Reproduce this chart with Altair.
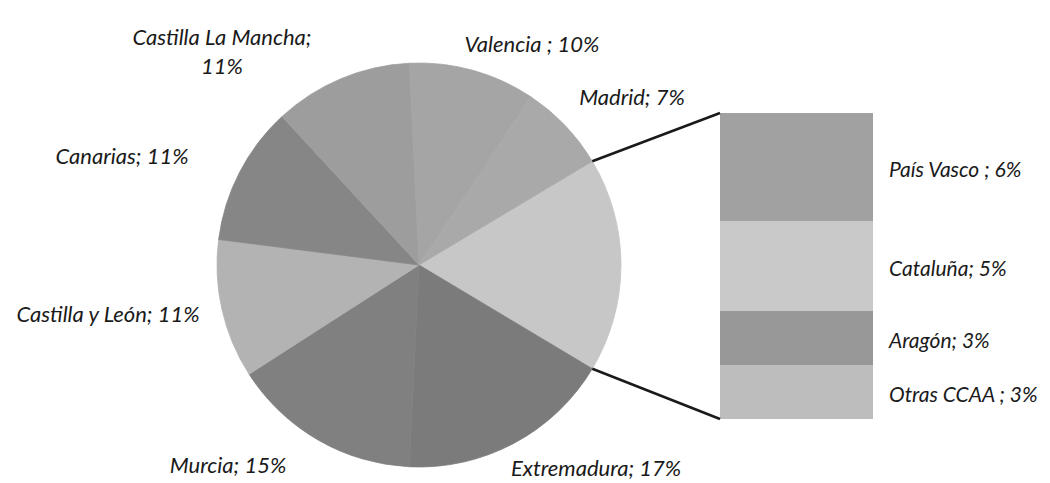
import math
import altair as alt
import pandas as pd

# ---- data ----
pie_names = ["Otras", "Extremadura", "Murcia", "Castilla y León", "Canarias",
             "Castilla La Mancha", "Valencia", "Madrid"]
pie_values = [17, 17, 15, 11, 11, 11, 10, 7]
pie_labels = ["", "Extremadura; 17%", "Murcia; 15%", "Castilla y León; 11%",
              "Canarias; 11%", "Castilla La Mancha;\n11%", "Valencia ; 10%", "Madrid; 7%"]

bar_names = ["Otras CCAA", "Aragón", "Cataluña", "País Vasco"]
bar_values = [3, 3, 5, 6]
bar_labels = ["Otras CCAA ; 3%", "Aragón; 3%", "Cataluña; 5%", "País Vasco ; 6%"]

# ---- styles / layout ----
pie_colors = ["#c7c7c7", "#7b7b7b", "#808080", "#b3b3b3", "#868686",
              "#9d9d9d", "#a5a5a5", "#a9a9a9"]
bar_colors = ["#bdbdbd", "#989898", "#c9c9c9", "#a1a1a1"]
OFF = 8
CX, CY, R = 419 - OFF, 265 - OFF, 202
BAR_X0, BAR_X1 = 720 - OFF, 873 - OFF
BAR_TOP, BAR_BOT = 113 - OFF, 419 - OFF
# label anchor points (page px) for the pie labels
pie_label_xy = [(0, 0), (596, 469), (228, 466), (108, 315), (122, 157),
                (222, 38), (532, 45), (632, 98)]
FONT = "Lato"
FS = 22
FS_BAR = 21

total = sum(pie_values)
other_total = sum(bar_values)
start = math.pi / 2 - math.pi * pie_values[0] / total

pie_df = pd.DataFrame({
    "name": pie_names, "value": pie_values, "idx": list(range(len(pie_names))),
    "col": pie_colors,
})

pie = alt.Chart(pie_df).mark_arc(outerRadius=R, strokeWidth=0.8).encode(
    theta=alt.Theta("value:Q", stack=True,
                    scale=alt.Scale(range=[start, start + 2 * math.pi])),
    order=alt.Order("idx:Q"),
    color=alt.Color("col:N", scale=None),
    stroke=alt.Stroke("col:N", scale=None),
    x=alt.value(CX), y=alt.value(CY),
)

lab_df = pd.DataFrame({
    "label": pie_labels[1:],
    "px": [p[0] - OFF for p in pie_label_xy[1:]],
    "py": [p[1] - OFF for p in pie_label_xy[1:]],
})
pie_text = alt.Chart(lab_df).mark_text(
    font=FONT, fontSize=FS, fontStyle="italic", color="#1a1a1a",
    align="center", baseline="middle", lineBreak="\n", lineHeight=29,
).encode(
    x=alt.X("px:Q", scale=None), y=alt.Y("py:Q", scale=None), text="label:N"
)

# bar of "other"
lo, hi = [], []
acc = 0
for v in bar_values:
    lo.append(acc)
    acc += v
    hi.append(acc)
bar_df = pd.DataFrame({
    "name": bar_names, "value": bar_values, "lo": lo, "hi": hi,
    "mid": [(a + b) / 2 for a, b in zip(lo, hi)],
    "label": bar_labels, "col": bar_colors,
})
yscale = alt.Scale(domain=[0, other_total], range=[BAR_BOT, BAR_TOP])
bar = alt.Chart(bar_df).mark_rect().encode(
    x=alt.value(BAR_X0), x2=alt.value(BAR_X1),
    y=alt.Y("lo:Q", scale=yscale, axis=None), y2="hi:Q",
    color=alt.Color("col:N", scale=None),
)
bar_text = alt.Chart(bar_df).mark_text(
    font=FONT, fontSize=FS_BAR, fontStyle="italic", color="#1a1a1a",
    align="left", baseline="middle", dx=16, dy=4,
).encode(
    x=alt.value(BAR_X1), y=alt.Y("mid:Q", scale=yscale, axis=None), text="label:N"
)

# connector lines from the "other" slice edges to the bar corners
a0 = start
a1 = start + 2 * math.pi * pie_values[0] / total
conn_df = pd.DataFrame({
    "x1": [CX + R * math.sin(a0), CX + R * math.sin(a1)],
    "y1": [CY - R * math.cos(a0), CY - R * math.cos(a1)],
    "x2": [BAR_X0, BAR_X0],
    "y2": [BAR_TOP, BAR_BOT],
})
conn = alt.Chart(conn_df).mark_rule(color="#1a1a1a", strokeWidth=2.5).encode(
    x=alt.X("x1:Q", scale=None), y=alt.Y("y1:Q", scale=None),
    x2="x2:Q", y2="y2:Q",
)

chart = alt.layer(pie, bar, conn, pie_text, bar_text).properties(
    width=1034, height=475, padding=0, background="white",
    autosize=alt.AutoSizeParams(type="none"),
).configure_view(stroke=None)

chart.save("out.html", embed_options={"renderer": "svg", "actions": False})
